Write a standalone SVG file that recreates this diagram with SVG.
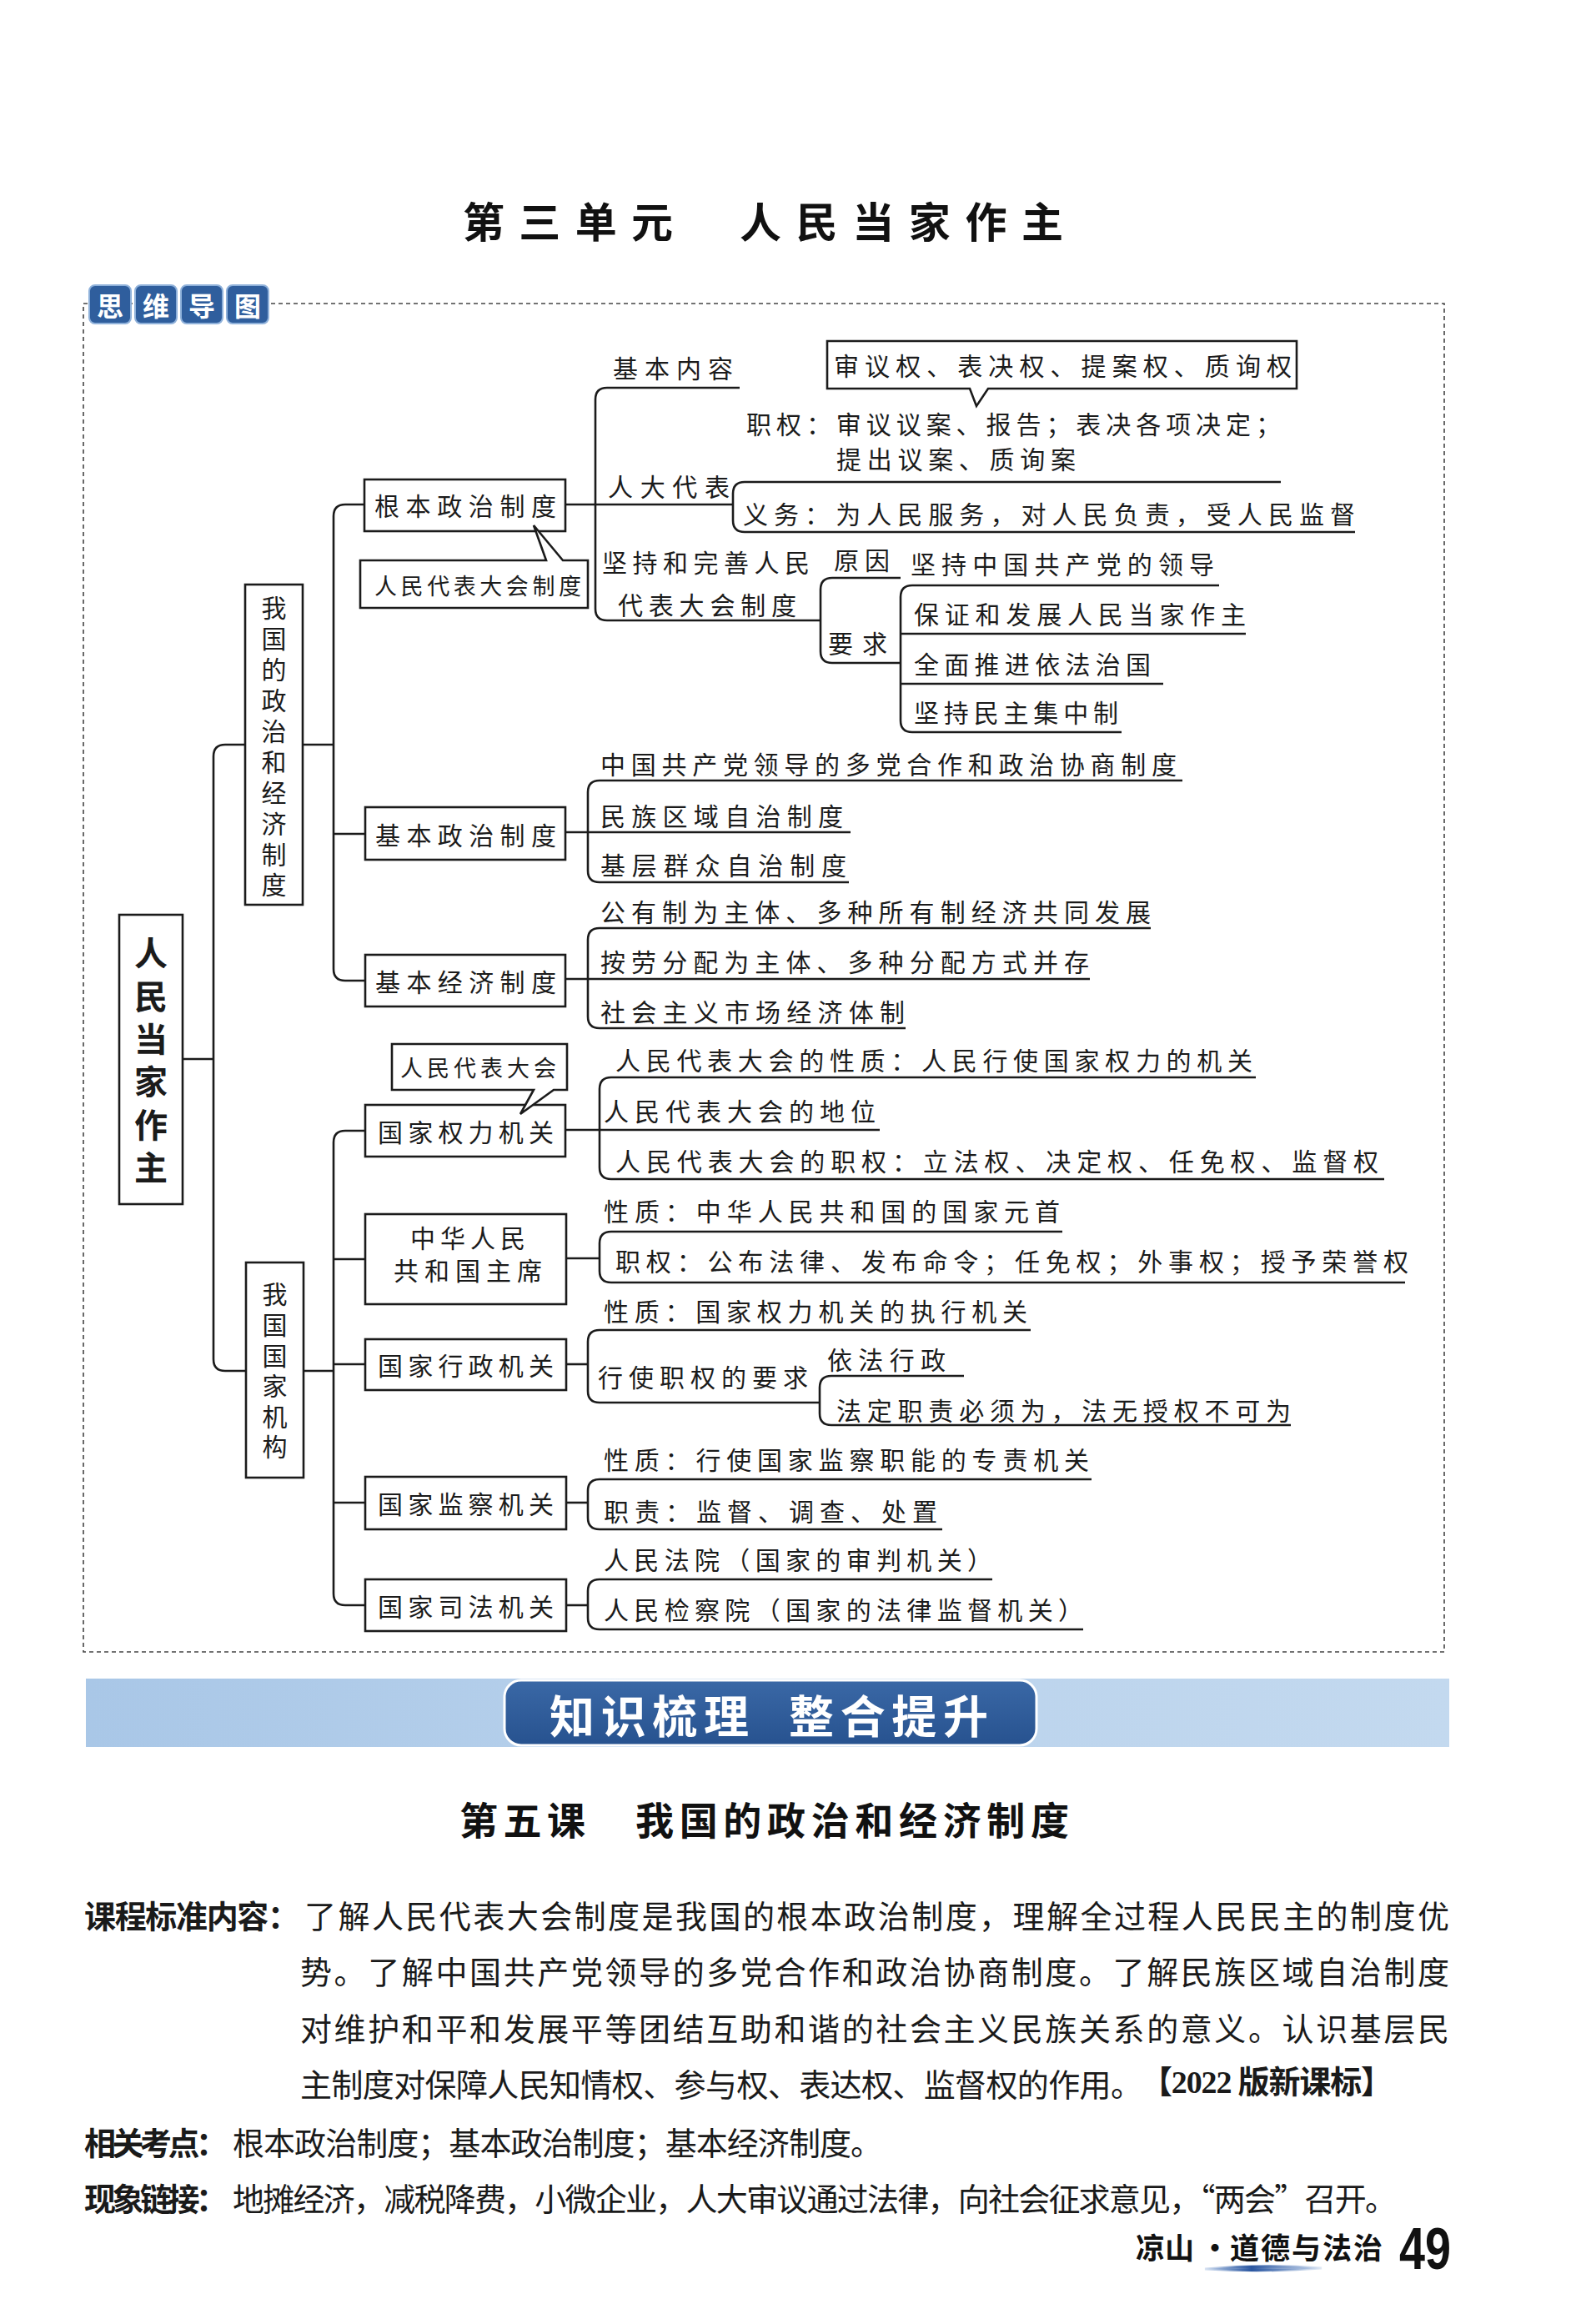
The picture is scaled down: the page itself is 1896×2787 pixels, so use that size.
<svg xmlns="http://www.w3.org/2000/svg" width="1896" height="2787" viewBox="0 0 1896 2787">
<defs>
<style>
.ln{fill:none;stroke:#1b1b1b;stroke-width:2.6}
.bx{fill:#fff;stroke:#1b1b1b;stroke-width:2.6}
.t{font-family:"Noto Sans CJK SC","Noto Sans CJK JP",sans-serif;font-size:30px;fill:#1b1b1b;dominant-baseline:central}
.v{writing-mode:vertical-rl;text-orientation:upright}
.sm{font-size:27px}
.big{font-size:40px;font-weight:700}
.hd{font-family:"Noto Sans CJK SC",sans-serif;font-weight:700;fill:#111;dominant-baseline:central}
.body{font-family:"Noto Sans CJK SC",sans-serif;font-size:38px;fill:#1a1a1a;dominant-baseline:central}
.lab{font-weight:700}
.badge{fill:#2f5e9d;stroke:#8fb1da;stroke-width:2}
.bt{font-family:"Noto Sans CJK SC",sans-serif;font-size:32px;font-weight:700;fill:#fff;text-anchor:middle;dominant-baseline:central}
</style>
<linearGradient id="strip" x1="0" y1="0" x2="1" y2="0">
<stop offset="0" stop-color="#a9c7e7"/>
<stop offset="0.5" stop-color="#b9d2ec"/>
<stop offset="1" stop-color="#c3d9ef"/>
</linearGradient>
<linearGradient id="pill" x1="0" y1="0" x2="0" y2="1">
<stop offset="0" stop-color="#3a68a6"/>
<stop offset="1" stop-color="#27528f"/>
</linearGradient>
<linearGradient id="brush" x1="0" y1="0" x2="1" y2="0">
<stop offset="0" stop-color="#9db8de" stop-opacity="0.4"/>
<stop offset="0.4" stop-color="#2a56a0"/>
<stop offset="1" stop-color="#9db8de" stop-opacity="0.3"/>
</linearGradient>
</defs>
<rect width="1896" height="2787" fill="#fff"/>

<!-- Title -->
<text class="hd" x="555" y="263" font-size="50" textLength="252" lengthAdjust="spacing">第三单元</text>
<text class="hd" x="887" y="263" font-size="50" textLength="388" lengthAdjust="spacing">人民当家作主</text>

<!-- Frame -->
<rect x="100" y="364" width="1632" height="1617" fill="none" stroke="#444" stroke-width="1.6" stroke-dasharray="5 4"/>

<!-- Badges -->
<g id="badge">
<rect class="badge" x="107" y="342" width="50" height="46" rx="7"/>
<rect class="badge" x="162" y="342" width="50" height="46" rx="7"/>
<rect class="badge" x="217" y="342" width="50" height="46" rx="7"/>
<rect class="badge" x="272" y="342" width="50" height="46" rx="7"/>
<text class="bt" x="132" y="365">思</text>
<text class="bt" x="187" y="365">维</text>
<text class="bt" x="242" y="365">导</text>
<text class="bt" x="297" y="365">图</text>
</g>

<!-- Connectors -->
<g id="connectors">
<path class="ln" d="M294,893 H270 Q256,893 256,907 V1630 Q256,1644 270,1644 H295"/>
<path class="ln" d="M219,1270 H256"/>
<path class="ln" d="M437,605 H414 Q400,605 400,619 V1162 Q400,1176 414,1176 H438"/>
<path class="ln" d="M363,893 H400 M400,1000 H438"/>
<path class="ln" d="M438,1356 H414 Q400,1356 400,1370 V1911 Q400,1925 414,1925 H438"/>
<path class="ln" d="M364,1644 H400 M400,1510 H438 M400,1636 H438 M400,1802 H438"/>
<path class="ln" d="M887,465 H728 Q714,465 714,479 V730 Q714,744 728,744 H984"/>
<path class="ln" d="M677,605 H879"/>
<path class="ln" d="M1536,578 H893 Q879,578 879,592 V624 Q879,638 893,638 H1625"/>
<path class="ln" d="M1080,693 H998 Q984,693 984,707 V781 Q984,795 998,795 H1080"/>
<path class="ln" d="M1462,702 H1094 Q1080,702 1080,716 V864 Q1080,878 1094,878 H1345"/>
<path class="ln" d="M1080,760 H1494 M1080,820 H1395"/>
<path class="ln" d="M1418,936 H719 Q705,936 705,950 V1044 Q705,1058 719,1058 H1018"/>
<path class="ln" d="M678,998 H1020"/>
<path class="ln" d="M1380,1113 H719 Q705,1113 705,1127 V1219 Q705,1233 719,1233 H1086"/>
<path class="ln" d="M678,1174 H1307"/>
<path class="ln" d="M1506,1292 H733 Q719,1292 719,1306 V1400 Q719,1414 733,1414 H1660"/>
<path class="ln" d="M678,1355 H1055"/>
<path class="ln" d="M1274,1477 H733 Q719,1477 719,1491 V1524 Q719,1538 733,1538 H1685"/>
<path class="ln" d="M679,1509 H719"/>
<path class="ln" d="M1236,1595 H719 Q705,1595 705,1609 V1668 Q705,1682 719,1682 H983"/>
<path class="ln" d="M679,1636 H705"/>
<path class="ln" d="M1156,1650 H997 Q983,1650 983,1664 V1695 Q983,1709 997,1709 H1548"/>
<path class="ln" d="M1309,1774 H719 Q705,1774 705,1788 V1820 Q705,1834 719,1834 H1130"/>
<path class="ln" d="M679,1802 H705"/>
<path class="ln" d="M1190,1894 H719 Q705,1894 705,1908 V1940 Q705,1954 719,1954 H1299"/>
<path class="ln" d="M679,1925 H705"/>
</g>

<!-- Root -->
<g id="root">
<rect class="bx" x="143" y="1097" width="76" height="347"/>
<text class="t big v" x="181" y="1123" textLength="297" lengthAdjust="spacing">人民当家作主</text>
</g>

<g id="zhidu">
<rect class="bx" x="294" y="701" width="69" height="384"/>
<text class="t v" x="328.5" y="714" textLength="362" lengthAdjust="spacing">我国的政治和经济制度</text>
</g>

<g id="jigou">
<rect class="bx" x="295" y="1514" width="69" height="258"/>
<text class="t v" x="329.5" y="1537" textLength="213" lengthAdjust="spacing">我国国家机构</text>
</g>

<!-- 根本政治制度 -->
<g id="genben">
<rect class="bx" x="437" y="575" width="241" height="62"/>
<text class="t" x="449" y="605" textLength="218" lengthAdjust="spacing">根本政治制度</text>
</g>
<g id="genben-callout">
<path class="bx" d="M432,672 H655 L640,630 L675,672 H705 V729 H432 Z"/>
<text class="t sm" x="449" y="701" textLength="248" lengthAdjust="spacing">人民代表大会制度</text>
</g>
<g id="genben-items">
<text class="t" x="735" y="440" textLength="144" lengthAdjust="spacing">基本内容</text>
<path class="bx" d="M992,409 H1555 V466 H1185 L1171,487 L1163,466 H992 Z"/>
<text class="t" x="1000" y="437" textLength="549" lengthAdjust="spacing">审议权、表决权、提案权、质询权</text>
<text class="t" x="895" y="507" textLength="641" lengthAdjust="spacing">职权：审议议案、报告；表决各项决定；</text>
<text class="t" x="1003" y="549" textLength="287" lengthAdjust="spacing">提出议案、质询案</text>
<text class="t" x="729" y="582" textLength="146" lengthAdjust="spacing">人大代表</text>
<text class="t" x="891" y="615" textLength="734" lengthAdjust="spacing">义务：为人民服务，对人民负责，受人民监督</text>
<text class="t" x="722" y="673" textLength="249" lengthAdjust="spacing">坚持和完善人民</text>
<text class="t" x="741" y="724" textLength="214" lengthAdjust="spacing">代表大会制度</text>
<text class="t" x="1000" y="670" textLength="67" lengthAdjust="spacing">原因</text>
<text class="t" x="993" y="770" textLength="71" lengthAdjust="spacing">要求</text>
<text class="t" x="1092" y="675" textLength="364" lengthAdjust="spacing">坚持中国共产党的领导</text>
<text class="t" x="1096" y="735" textLength="398" lengthAdjust="spacing">保证和发展人民当家作主</text>
<text class="t" x="1096" y="795" textLength="284" lengthAdjust="spacing">全面推进依法治国</text>
<text class="t" x="1096" y="853" textLength="245" lengthAdjust="spacing">坚持民主集中制</text>
</g>

<!-- 基本政治制度 -->
<g id="jibenzhengzhi">
<rect class="bx" x="438" y="968" width="240" height="63"/>
<text class="t" x="450" y="1000" textLength="217" lengthAdjust="spacing">基本政治制度</text>
<text class="t" x="720" y="915" textLength="691" lengthAdjust="spacing">中国共产党领导的多党合作和政治协商制度</text>
<text class="t" x="720" y="977" textLength="291" lengthAdjust="spacing">民族区域自治制度</text>
<text class="t" x="720" y="1036" textLength="295" lengthAdjust="spacing">基层群众自治制度</text>
</g>

<!-- 基本经济制度 -->
<g id="jibenjingji">
<rect class="bx" x="438" y="1145" width="240" height="62"/>
<text class="t" x="450" y="1176" textLength="217" lengthAdjust="spacing">基本经济制度</text>
<text class="t" x="720" y="1092" textLength="660" lengthAdjust="spacing">公有制为主体、多种所有制经济共同发展</text>
<text class="t" x="720" y="1152" textLength="586" lengthAdjust="spacing">按劳分配为主体、多种分配方式并存</text>
<text class="t" x="720" y="1212" textLength="365" lengthAdjust="spacing">社会主义市场经济体制</text>
</g>

<!-- 国家权力机关 -->
<g id="quanli">
<rect class="bx" x="438" y="1325" width="240" height="62"/>
<text class="t" x="453" y="1356" textLength="211" lengthAdjust="spacing">国家权力机关</text>
<path class="bx" d="M470,1252 H680 V1307 H664 L624,1336 L640,1307 H470 Z"/>
<text class="t sm" x="480" y="1279" textLength="187" lengthAdjust="spacing">人民代表大会</text>
<text class="t" x="738" y="1270" textLength="764" lengthAdjust="spacing">人民代表大会的性质：人民行使国家权力的机关</text>
<text class="t" x="724" y="1331" textLength="326" lengthAdjust="spacing">人民代表大会的地位</text>
<text class="t" x="738" y="1391" textLength="915" lengthAdjust="spacing">人民代表大会的职权：立法权、决定权、任免权、监督权</text>
</g>

<!-- 主席 -->
<g id="zhuxi">
<rect class="bx" x="438" y="1456" width="241" height="108"/>
<text class="t" x="492" y="1483" textLength="138" lengthAdjust="spacing">中华人民</text>
<text class="t" x="472" y="1522" textLength="178" lengthAdjust="spacing">共和国主席</text>
<text class="t" x="724" y="1451" textLength="547" lengthAdjust="spacing">性质：中华人民共和国的国家元首</text>
<text class="t" x="738" y="1511" textLength="951" lengthAdjust="spacing">职权：公布法律、发布命令；任免权；外事权；授予荣誉权</text>
</g>

<!-- 国家行政机关 -->
<g id="xingzheng">
<rect class="bx" x="438" y="1606" width="241" height="61"/>
<text class="t" x="453" y="1636" textLength="211" lengthAdjust="spacing">国家行政机关</text>
<text class="t" x="724" y="1571" textLength="508" lengthAdjust="spacing">性质：国家权力机关的执行机关</text>
<text class="t" x="717" y="1650" textLength="252" lengthAdjust="spacing">行使职权的要求</text>
<text class="t" x="992" y="1629" textLength="142" lengthAdjust="spacing">依法行政</text>
<text class="t" x="1003" y="1690" textLength="545" lengthAdjust="spacing">法定职责必须为，法无授权不可为</text>
</g>

<!-- 国家监察机关 -->
<g id="jiancha">
<rect class="bx" x="438" y="1771" width="241" height="63"/>
<text class="t" x="453" y="1802" textLength="211" lengthAdjust="spacing">国家监察机关</text>
<text class="t" x="724" y="1749" textLength="582" lengthAdjust="spacing">性质：行使国家监察职能的专责机关</text>
<text class="t" x="724" y="1811" textLength="400" lengthAdjust="spacing">职责：监督、调查、处置</text>
</g>

<!-- 国家司法机关 -->
<g id="sifa">
<rect class="bx" x="438" y="1894" width="241" height="62"/>
<text class="t" x="453" y="1925" textLength="211" lengthAdjust="spacing">国家司法机关</text>
<text class="t" x="724" y="1869" textLength="466" lengthAdjust="spacing">人民法院（国家的审判机关）</text>
<text class="t" x="724" y="1929" textLength="575" lengthAdjust="spacing">人民检察院（国家的法律监督机关）</text>
</g>

<!-- Banner -->
<rect x="103" y="2013" width="1635" height="82" fill="url(#strip)"/>
<rect x="605" y="2015" width="638" height="78" rx="20" fill="url(#pill)" stroke="#fff" stroke-width="3"/>
<text class="hd" x="659" y="2055" font-size="54" font-weight="900" style="fill:#fff" textLength="239" lengthAdjust="spacing">知识梳理</text>
<text class="hd" x="946" y="2055" font-size="54" font-weight="900" style="fill:#fff" textLength="239" lengthAdjust="spacing">整合提升</text>

<!-- Lesson heading -->
<text class="hd" x="551" y="2180" font-size="46" textLength="151" lengthAdjust="spacing">第五课</text>
<text class="hd" x="762" y="2180" font-size="46" textLength="520" lengthAdjust="spacing">我国的政治和经济制度</text>

<!-- Paragraph -->
<text class="body lab" x="101" y="2295" textLength="258" lengthAdjust="spacing">课程标准内容：</text>
<text class="body" x="365" y="2295" textLength="1373" lengthAdjust="spacing">了解人民代表大会制度是我国的根本政治制度，理解全过程人民民主的制度优</text>
<text class="body" x="360" y="2362" textLength="1378" lengthAdjust="spacing">势。了解中国共产党领导的多党合作和政治协商制度。了解民族区域自治制度</text>
<text class="body" x="360" y="2430" textLength="1378" lengthAdjust="spacing">对维护和平和发展平等团结互助和谐的社会主义民族关系的意义。认识基层民</text>
<text class="body" x="360" y="2497" textLength="1010" lengthAdjust="spacing">主制度对保障人民知情权、参与权、表达权、监督权的作用。</text>
<text class="body lab" x="1368" y="2497" style="font-family:'Liberation Serif','Noto Sans CJK SC',serif" textLength="302" lengthAdjust="spacing">【2022 版新课标】</text>
<text class="body lab" x="101" y="2567" textLength="172" lengthAdjust="spacing">相关考点：</text>
<text class="body" x="279" y="2567" textLength="779" lengthAdjust="spacing">根本政治制度；基本政治制度；基本经济制度。</text>
<text class="body lab" x="101" y="2634" textLength="172" lengthAdjust="spacing">现象链接：</text>
<text class="body" x="279" y="2634" textLength="1396" lengthAdjust="spacing">地摊经济，减税降费，小微企业，人大审议通过法律，向社会征求意见，“两会”召开。</text>

<!-- Footer -->
<text class="hd" x="1362" y="2693" font-size="35" textLength="70" lengthAdjust="spacing">凉山</text>
<text class="hd" x="1457" y="2693" font-size="35" text-anchor="middle">·</text>
<text class="hd" x="1475" y="2693" font-size="35" textLength="183" lengthAdjust="spacing">道德与法治</text>
<path d="M1445,2721 Q1515,2715 1585,2720 Q1515,2725 1445,2721 Z" fill="url(#brush)" stroke="url(#brush)" stroke-width="3"/>
<text x="1678" y="2697" font-family="'Liberation Sans',Arial,sans-serif" font-weight="700" font-size="70" fill="#111" dominant-baseline="central" textLength="62" lengthAdjust="spacingAndGlyphs">49</text>
</svg>
